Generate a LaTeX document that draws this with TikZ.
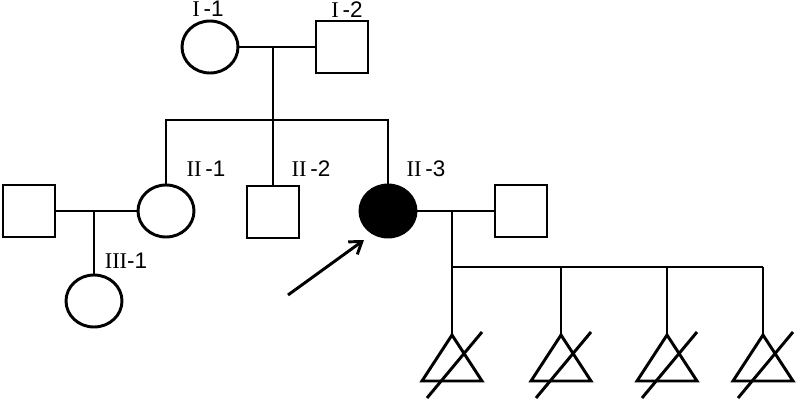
\documentclass[tikz,border=0pt]{standalone}
\usepackage{fontspec}
\setmainfont{Liberation Serif}
\newfontfamily\numsans{Liberation Sans}
\usetikzlibrary{shapes.geometric,arrows.meta}
\tikzset{
  female/.style={draw, ellipse, minimum width=1.4cm, minimum height=1.3cm, inner sep=0pt},
  male/.style={draw, rectangle, minimum size=1.3cm, inner sep=0pt},
  affected/.style={fill=black},
  gen/.style={font=\fontsize{16}{18}\selectfont, inner sep=0pt},
}
\newcommand{\idlabel}[2]{#1\,{\numsans -#2}}
\begin{document}
\begin{tikzpicture}[x=0.025cm, y=-0.025cm, line width=2.1pt]
    \useasboundingbox (0,0) rectangle (797,406);
    % generation I
    \node[female] (i1) at (210,47) {};
    \node[male] (i2) at (342,47) {};
    \node[gen] (li1) at (208,9) {\idlabel{I}{1}};
    \node[gen] (li2) at (347,10) {\idlabel{I}{2}};
    % generation II
    \node[male] (sp1) at (29,211) {};
    \node[female] (ii1) at (166,211) {};
    \node[male] (ii2) at (273,212) {};
    \node[female, affected] (ii3) at (388,211) {};
    \node[male] (sp3) at (521,211) {};
    \node[gen] (lii1) at (206,169) {\idlabel{II}{1}};
    \node[gen] (lii2) at (311,169) {\idlabel{II}{2}};
    \node[gen] (lii3) at (426,169) {\idlabel{II}{3}};
    % generation III
    \node[female] (iii1) at (94,301) {};
    \node[gen] (liii1) at (126,261) {III{\numsans -1}};
    % lines of descent
    \coordinate (sib1) at (273,120);
    \draw (i1) -- (i2);
    \draw (i1.east -| sib1) -- (sib1);
    \draw (ii1.north) -- (ii1.north |- sib1) -- (ii3.north |- sib1) -- (ii3.north);
    \draw (sib1) -- (ii2.north);
    \draw (sp1) -- (ii1);
    \draw (iii1.north |- sp1.east) -- (iii1.north);
    \draw (ii3) -- (sp3);
    \coordinate (d3) at (452,211);
    \coordinate (sib3) at (452,267);
    \draw (d3) -- (sib3) -- (763,267);
    % four lost pregnancies
    \foreach \x [count=\i] in {452,561,667,763} {
        \coordinate (c\i) at (\x,335);
        \draw (c\i |- sib3) -- (c\i);
        \draw[line join=miter] (c\i) -- ++(-30,46) -- ++(60,0) -- cycle;
        \draw (c\i) ++(-25,63) -- ++(55,-66);
    }
    % proband
    \coordinate (tail) at (288,295);
    \coordinate (tip) at (364,240);
    \draw[-{Straight Barb[length=8pt,width=11pt]}] (tail) -- (tip);
\end{tikzpicture}
\end{document}
